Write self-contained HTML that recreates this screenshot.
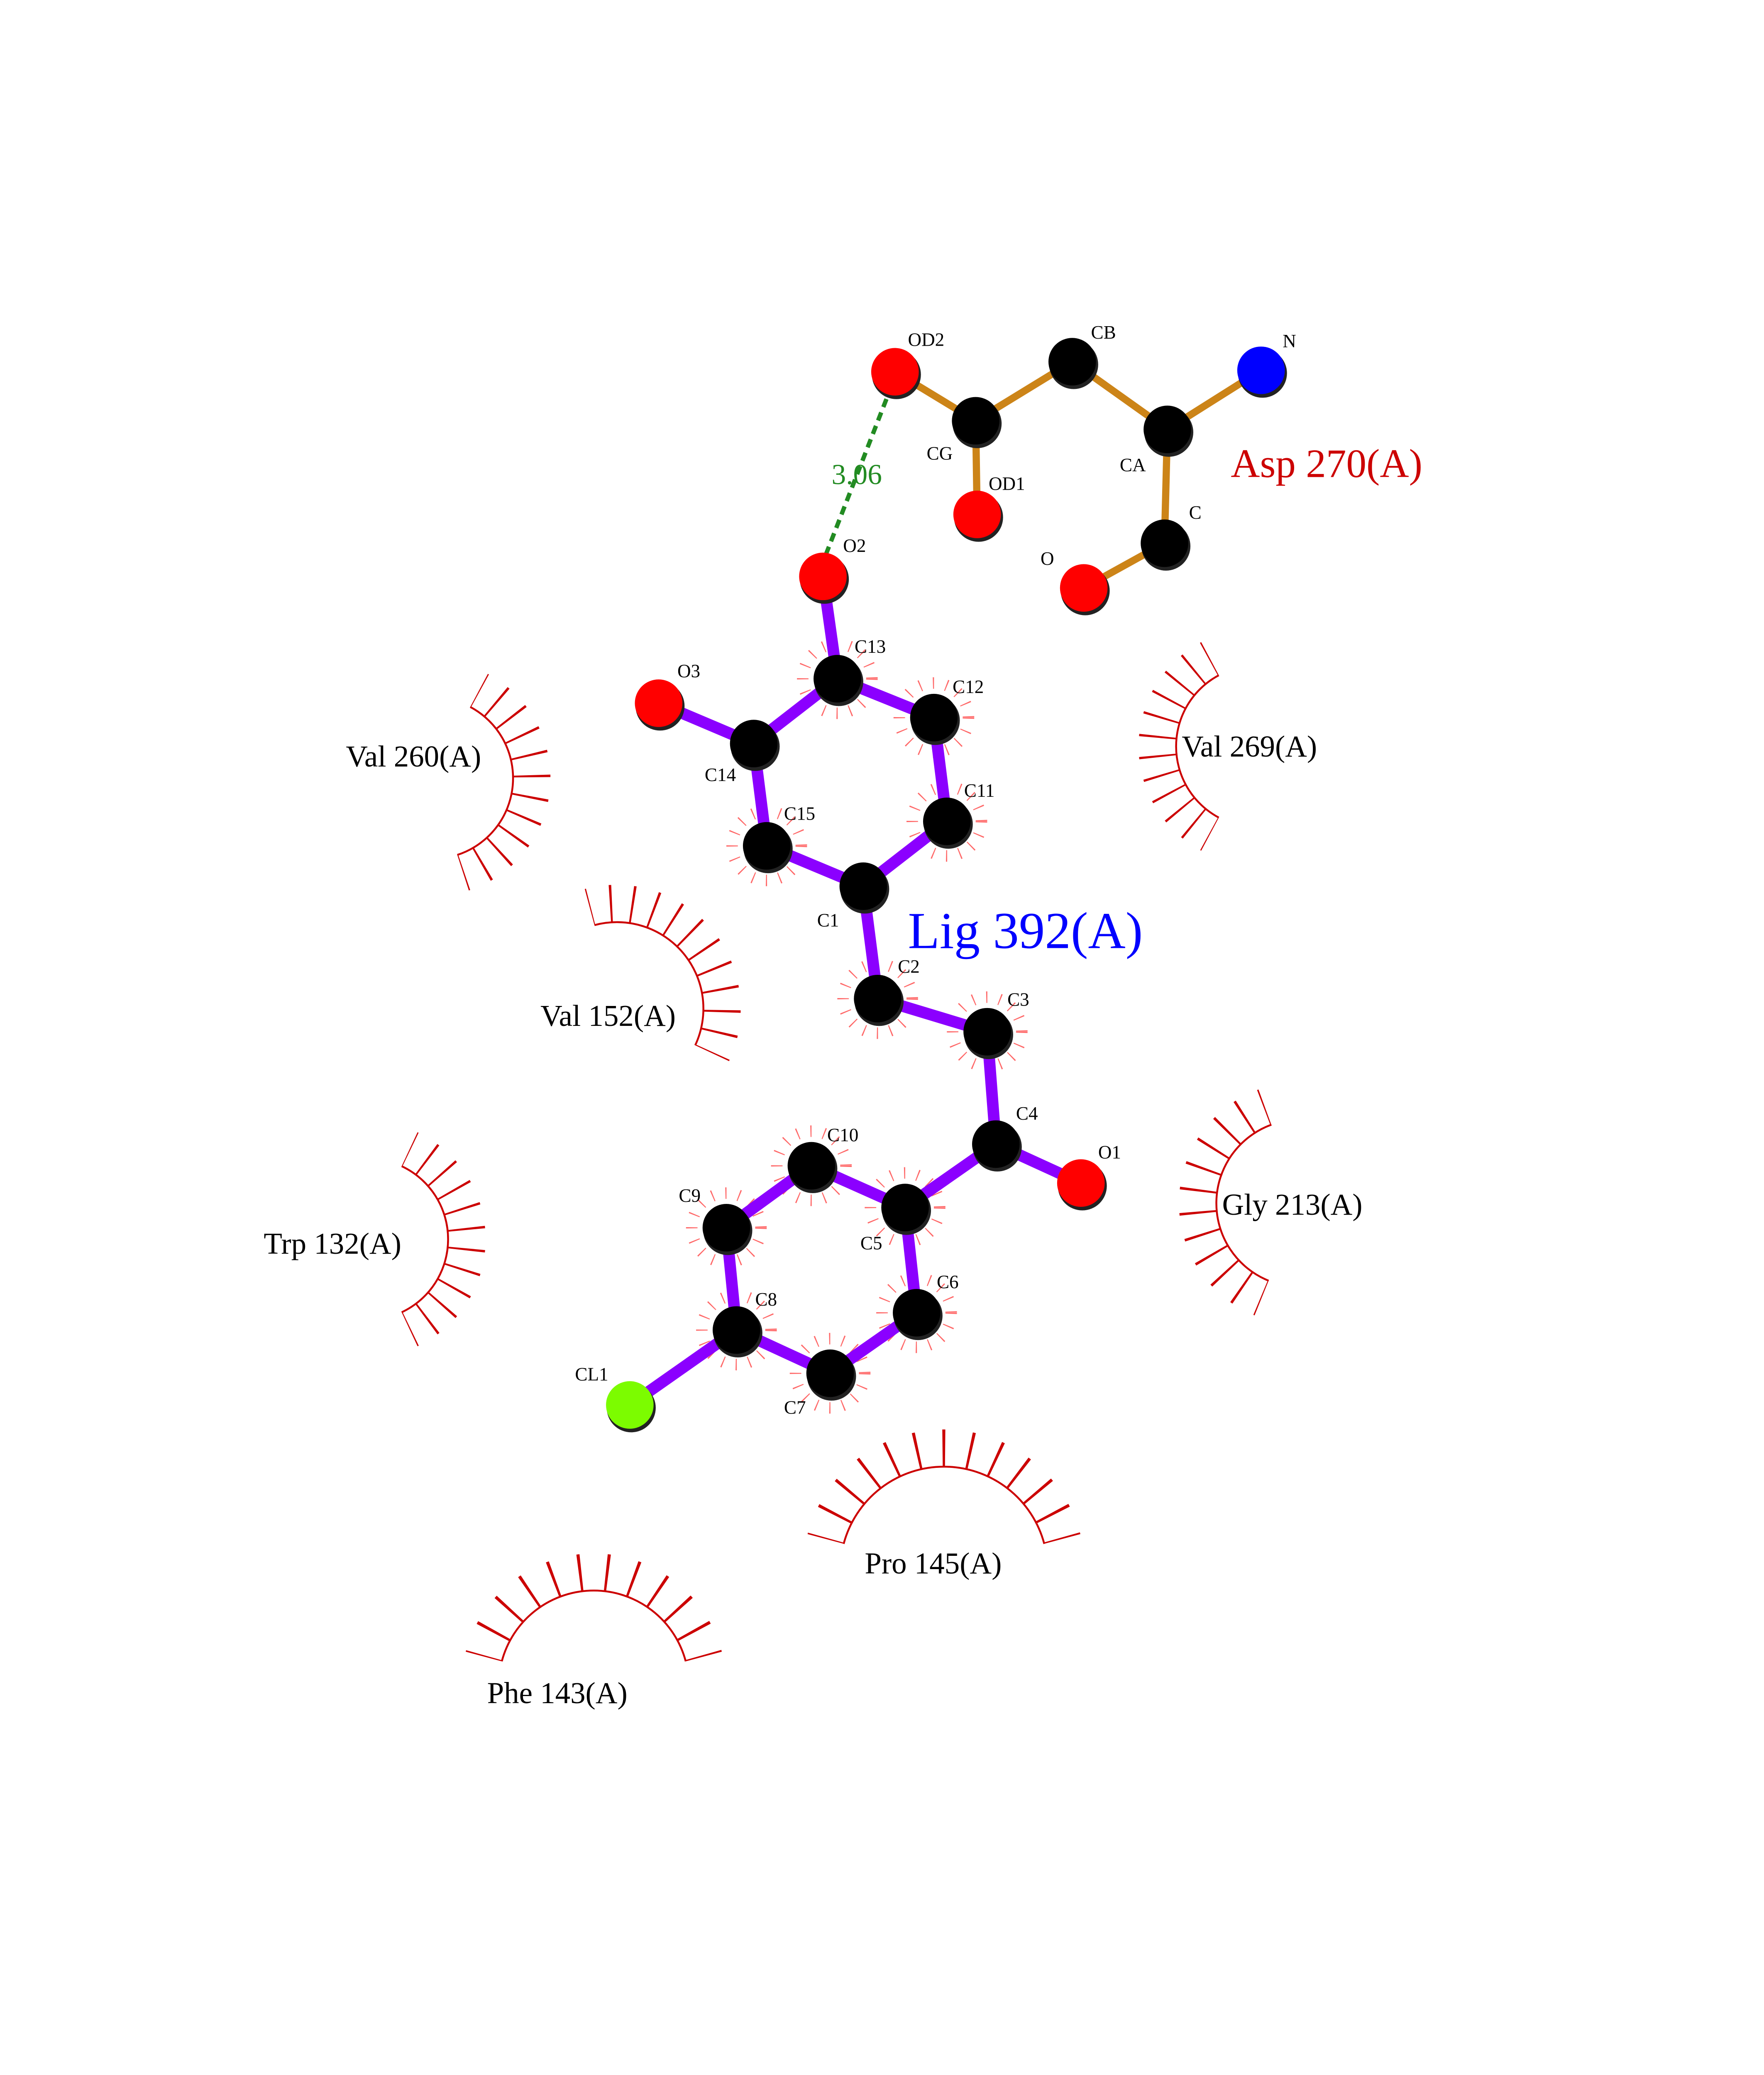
<!DOCTYPE html>
<html style="margin:0;padding:0;width:4250px;height:5500px;overflow:hidden;"><head><meta charset="utf-8"><style>
html,body{margin:0;padding:0;background:#fff;width:4250px;height:5500px;overflow:hidden;}
svg{position:absolute;left:0;top:0;width:4250px;height:5500px;}
text{font-family:"Liberation Serif",serif;}
</style></head><body>
<svg width="4250" height="5500" viewBox="0 0 1224 1584" preserveAspectRatio="none" xmlns="http://www.w3.org/2000/svg">
<!-- hydrophobic arcs -->
<g stroke="#cc0000" fill="none" stroke-width="1.3">
<path d="M326.3 490.6 A56 56 0 0 1 317.3 593.3"/>
<path d="M845.7 567.4 A56 56 0 0 1 845.7 468.6"/>
<path d="M412.5 642 A60 60 0 0 1 482.4 725.4"/>
<path d="M278.7 809.3 A56 56 0 0 1 278.7 910.7"/>
<path d="M880.3 888.8 A58 58 0 0 1 882.2 780.5"/>
<path d="M585.4 1071.4 A72 72 0 0 1 724.6 1071.4"/>
<path d="M348.2 1152.9 A66 66 0 0 1 475.8 1152.9"/>
</g>
<g stroke="#cc0000" fill="none" stroke-width="26" stroke-dasharray="1 9" stroke-dashoffset="0.5">
<path pathLength="110" d="M332.4 479.1 A69 69 0 0 1 321.3 605.6"/>
<path pathLength="110" d="M839.6 578.9 A69 69 0 0 1 839.6 457.1"/>
<path pathLength="110" d="M409.1 629.5 A73 73 0 0 1 494.1 730.9"/>
<path pathLength="110" d="M284.2 797.5 A69 69 0 0 1 284.2 922.5"/>
<path pathLength="110" d="M875.4 900.8 A71 71 0 0 1 877.7 768.3"/>
<path pathLength="120" d="M572.9 1068 A85 85 0 0 1 737.1 1068"/>
<path pathLength="110" d="M335.7 1149.6 A79 79 0 0 1 488.3 1149.6"/>
</g>
<!-- small hydrophobic spokes around ligand atoms -->
<g stroke="#ff4444" fill="none" stroke-width="8" stroke-dasharray="0.5 5.5" opacity="0.8">
<circle cx="581" cy="471" r="24" pathLength="96"/>
<circle cx="648" cy="498" r="24" pathLength="96"/>
<circle cx="657" cy="570" r="24" pathLength="96"/>
<circle cx="532" cy="587" r="24" pathLength="96"/>
<circle cx="609" cy="693" r="24" pathLength="96"/>
<circle cx="685" cy="716" r="24" pathLength="96"/>
<circle cx="628" cy="838" r="24" pathLength="96"/>
<circle cx="504" cy="852" r="24" pathLength="96"/>
<circle cx="511" cy="923" r="24" pathLength="96"/>
<circle cx="576" cy="953" r="24" pathLength="96"/>
<circle cx="636" cy="911" r="24" pathLength="96"/>
<circle cx="563" cy="809" r="24" pathLength="96"/>
</g>
<!-- Asp bonds -->
<g stroke="#cc8418" stroke-width="5" stroke-linecap="round">
<line x1="621" y1="258" x2="677" y2="292"/><line x1="677" y1="292" x2="744" y2="251"/>
<line x1="744" y1="251" x2="810" y2="298"/><line x1="810" y1="298" x2="875" y2="257"/>
<line x1="810" y1="298" x2="808" y2="377"/><line x1="808" y1="377" x2="752" y2="408"/>
<line x1="677" y1="292" x2="678" y2="357"/>
</g>
<!-- ligand bonds -->
<g stroke="#8b00ff" stroke-width="8" stroke-linecap="round">
<line x1="571" y1="400" x2="581" y2="471"/><line x1="581" y1="471" x2="648" y2="498"/>
<line x1="648" y1="498" x2="657" y2="570"/><line x1="657" y1="570" x2="599" y2="615"/>
<line x1="599" y1="615" x2="532" y2="587"/><line x1="532" y1="587" x2="523" y2="516"/>
<line x1="523" y1="516" x2="581" y2="471"/><line x1="523" y1="516" x2="457" y2="488"/>
<line x1="599" y1="615" x2="609" y2="693"/><line x1="609" y1="693" x2="685" y2="716"/>
<line x1="685" y1="716" x2="691" y2="794"/><line x1="691" y1="794" x2="750" y2="821"/>
<line x1="691" y1="794" x2="628" y2="838"/><line x1="628" y1="838" x2="563" y2="809"/>
<line x1="563" y1="809" x2="504" y2="852"/><line x1="504" y1="852" x2="511" y2="923"/>
<line x1="511" y1="923" x2="576" y2="953"/><line x1="576" y1="953" x2="636" y2="911"/>
<line x1="636" y1="911" x2="628" y2="838"/><line x1="511" y1="923" x2="437" y2="975"/>
</g>
<line x1="573" y1="385" x2="617" y2="272" stroke="#228b22" stroke-width="3" stroke-dasharray="6,4"/>
<!-- atoms -->
<g fill="#222">
<circle cx="622" cy="260" r="17"/><circle cx="678" cy="294" r="17"/><circle cx="745" cy="253" r="17"/>
<circle cx="811" cy="300" r="17"/><circle cx="876" cy="259" r="17"/><circle cx="809" cy="379" r="17"/>
<circle cx="753" cy="410" r="17"/><circle cx="679" cy="359" r="17"/><circle cx="572" cy="402" r="17"/>
<circle cx="582" cy="473" r="17"/><circle cx="649" cy="500" r="17"/><circle cx="658" cy="572" r="17"/>
<circle cx="600" cy="617" r="17"/><circle cx="533" cy="589" r="17"/><circle cx="524" cy="518" r="17"/>
<circle cx="458" cy="490" r="17"/><circle cx="610" cy="695" r="17"/><circle cx="686" cy="718" r="17"/>
<circle cx="692" cy="796" r="17"/><circle cx="751" cy="823" r="17"/><circle cx="629" cy="840" r="17"/>
<circle cx="564" cy="811" r="17"/><circle cx="505" cy="854" r="17"/><circle cx="512" cy="925" r="17"/>
<circle cx="577" cy="955" r="17"/><circle cx="637" cy="913" r="17"/><circle cx="438" cy="977" r="17"/>
</g>
<g>
<circle cx="621" cy="258" r="16.5" fill="#ff0000"/><circle cx="677" cy="292" r="16.5" fill="#000"/>
<circle cx="744" cy="251" r="16.5" fill="#000"/><circle cx="810" cy="298" r="16.5" fill="#000"/>
<circle cx="875" cy="257" r="16.5" fill="#0000ff"/><circle cx="808" cy="377" r="16.5" fill="#000"/>
<circle cx="752" cy="408" r="16.5" fill="#ff0000"/><circle cx="678" cy="357" r="16.5" fill="#ff0000"/>
<circle cx="571" cy="400" r="16.5" fill="#ff0000"/><circle cx="581" cy="471" r="16.5" fill="#000"/>
<circle cx="648" cy="498" r="16.5" fill="#000"/><circle cx="657" cy="570" r="16.5" fill="#000"/>
<circle cx="599" cy="615" r="16.5" fill="#000"/><circle cx="532" cy="587" r="16.5" fill="#000"/>
<circle cx="523" cy="516" r="16.5" fill="#000"/><circle cx="457" cy="488" r="16.5" fill="#ff0000"/>
<circle cx="609" cy="693" r="16.5" fill="#000"/><circle cx="685" cy="716" r="16.5" fill="#000"/>
<circle cx="691" cy="794" r="16.5" fill="#000"/><circle cx="750" cy="821" r="16.5" fill="#ff0000"/>
<circle cx="628" cy="838" r="16.5" fill="#000"/><circle cx="563" cy="809" r="16.5" fill="#000"/>
<circle cx="504" cy="852" r="16.5" fill="#000"/><circle cx="511" cy="923" r="16.5" fill="#000"/>
<circle cx="576" cy="953" r="16.5" fill="#000"/><circle cx="636" cy="911" r="16.5" fill="#000"/>
<circle cx="437" cy="975" r="16.5" fill="#7cfc00"/>
</g>
<text x="577" y="336" font-size="20" fill="#228b22">3.06</text>
<g font-size="13" fill="#000">
<text x="630" y="240">OD2</text><text x="757" y="235">CB</text><text x="890" y="241">N</text>
<text x="643" y="319">CG</text><text x="686" y="340">OD1</text><text x="777" y="327">CA</text>
<text x="825" y="360">C</text><text x="722" y="392">O</text><text x="585" y="383">O2</text>
<text x="593" y="453">C13</text><text x="661" y="481">C12</text><text x="470" y="470">O3</text>
<text x="489" y="542">C14</text><text x="669" y="553">C11</text><text x="544" y="569">C15</text>
<text x="567" y="643">C1</text><text x="623" y="675">C2</text><text x="699" y="698">C3</text>
<text x="705" y="777">C4</text><text x="762" y="804">O1</text><text x="574" y="792">C10</text>
<text x="471" y="834">C9</text><text x="597" y="867">C5</text><text x="650" y="894">C6</text>
<text x="524" y="906">C8</text><text x="399" y="958">CL1</text><text x="544" y="981">C7</text>
</g>
<text x="854" y="331" font-size="28" fill="#cc0000">Asp 270(A)</text>
<text x="630" y="658" font-size="36" fill="#0000ff">Lig 392(A)</text>
<g font-size="21" fill="#000">
<text x="240" y="532">Val 260(A)</text><text x="820" y="525">Val 269(A)</text>
<text x="375" y="712">Val 152(A)</text><text x="183" y="870">Trp 132(A)</text>
<text x="848" y="843">Gly 213(A)</text><text x="600" y="1092">Pro 145(A)</text>
<text x="338" y="1182">Phe 143(A)</text>
</g>
<text x="58" y="1470" font-size="14">.</text>
</svg>
</body></html>
